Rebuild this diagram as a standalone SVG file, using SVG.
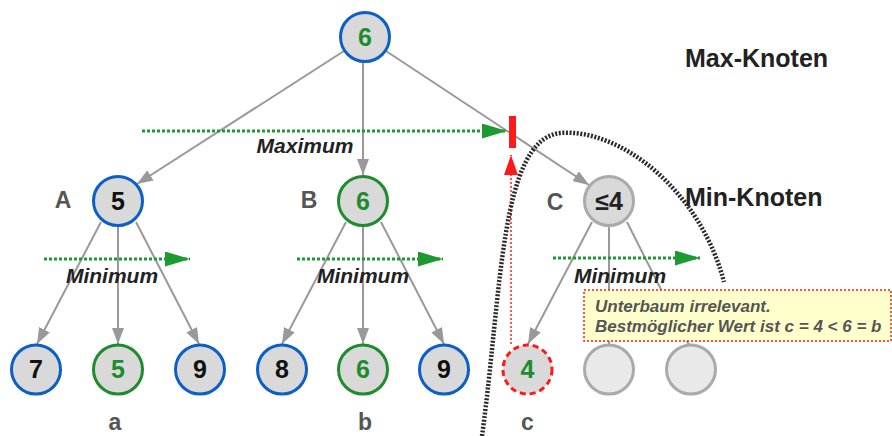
<svg xmlns="http://www.w3.org/2000/svg" width="892" height="436" viewBox="0 0 892 436">
<style>
.nd{stroke-width:3}
.blue{fill:#d9d9d9;stroke:#0b5fc7}
.green{fill:#d9d9d9;stroke:#1e8c2e}
.grey{fill:#d9d9d9;stroke:#aaaaaa}
.empty{fill:#e9e9e9;stroke:#aaaaaa}
.red{fill:#d9d9d9;stroke:#ff1a1a;stroke-dasharray:6 4}
.num{font-family:"Liberation Sans",Arial,sans-serif;font-weight:bold;font-size:25px;text-anchor:middle}
.k{fill:#111}
.g{fill:#1e8c2e}
.lbl{font-family:"Liberation Sans",Arial,sans-serif;font-weight:bold;font-size:23px;fill:#555;text-anchor:middle}
.ttl{font-family:"Liberation Sans",Arial,sans-serif;font-weight:bold;font-size:25px;fill:#222}
.it{font-family:"Liberation Sans",Arial,sans-serif;font-weight:bold;font-style:italic;font-size:21px;fill:#222;text-anchor:middle}
.edge{stroke:#999;stroke-width:2;fill:none}
.ga{stroke:#1a9a30;stroke-width:3;stroke-dasharray:3 2;fill:none}
.note{font-family:"Liberation Sans",Arial,sans-serif;font-weight:bold;font-style:italic;font-size:17px;fill:#555}
</style>
<defs>
<marker id="ah" viewBox="0 0 16 12" refX="16" refY="6" markerWidth="16" markerHeight="12" markerUnits="userSpaceOnUse" orient="auto">
<path d="M0,0 L16,6 L0,12 z" fill="#999"/>
</marker>
<marker id="gh" viewBox="0 0 25 15" refX="25" refY="7.5" markerWidth="25" markerHeight="15" markerUnits="userSpaceOnUse" orient="auto">
<path d="M0,0 L25,7.5 L0,15 z" fill="#1a9a30"/>
</marker>
<marker id="rh" viewBox="0 0 20 14" refX="20" refY="7" markerWidth="20" markerHeight="14" markerUnits="userSpaceOnUse" orient="auto">
<path d="M0,0 L20,7 L0,14 z" fill="#ff1a1a"/>
</marker>
</defs>
<rect width="892" height="436" fill="#ffffff"/>

<g id="connectors">
<line class="edge" x1="344" y1="51" x2="137" y2="184" marker-end="url(#ah)"/>
<line class="edge" x1="363" y1="63" x2="363" y2="175" marker-end="url(#ah)"/>
<line class="edge" x1="386" y1="51" x2="589" y2="185" marker-end="url(#ah)"/>
<line class="edge" x1="101" y1="222" x2="37" y2="344" marker-end="url(#ah)"/>
<line class="edge" x1="118" y1="227" x2="118" y2="344" marker-end="url(#ah)"/>
<line class="edge" x1="136" y1="222" x2="199" y2="344" marker-end="url(#ah)"/>
<line class="edge" x1="346" y1="222" x2="282" y2="344" marker-end="url(#ah)"/>
<line class="edge" x1="363" y1="227" x2="363" y2="344" marker-end="url(#ah)"/>
<line class="edge" x1="381" y1="222" x2="444" y2="344" marker-end="url(#ah)"/>
<line class="edge" x1="592" y1="222" x2="528" y2="344" marker-end="url(#ah)"/>
<line class="edge" x1="609" y1="227" x2="609" y2="345"/>
<line class="edge" x1="627" y1="222" x2="689" y2="345"/>
</g>

<g id="root"><circle class="nd blue" cx="365" cy="37" r="24.5"/><text class="num g" x="365" y="46">6</text></g>
<g id="nodeA"><circle class="nd blue" cx="118" cy="201" r="24.5"/><text class="num k" x="118" y="210">5</text></g>
<g id="nodeB"><circle class="nd green" cx="363" cy="201" r="24.5"/><text class="num g" x="363" y="210">6</text></g>
<g id="nodeC"><circle class="nd grey" cx="609" cy="201" r="24.5"/><text class="num k" x="609" y="210" style="fill:#222">≤4</text></g>
<g id="leaf7"><circle class="nd blue" cx="36" cy="369.5" r="24.5"/><text class="num k" x="36" y="378">7</text></g>
<g id="leaf5"><circle class="nd green" cx="118" cy="369.5" r="24.5"/><text class="num g" x="118" y="378">5</text></g>
<g id="leaf9a"><circle class="nd blue" cx="200" cy="369.5" r="24.5"/><text class="num k" x="200" y="378">9</text></g>
<g id="leaf8"><circle class="nd blue" cx="282" cy="369.5" r="24.5"/><text class="num k" x="282" y="378">8</text></g>
<g id="leaf6"><circle class="nd green" cx="363" cy="369.5" r="24.5"/><text class="num g" x="363" y="378">6</text></g>
<g id="leaf9b"><circle class="nd blue" cx="444" cy="369.5" r="24.5"/><text class="num k" x="444" y="378">9</text></g>
<g id="leaf4"><circle class="nd red" cx="527.5" cy="369.5" r="24.5"/><text class="num g" x="527.5" y="378">4</text></g>
<g id="leafX1"><circle class="nd empty" cx="609" cy="369.5" r="24.5"/></g>
<g id="leafX2"><circle class="nd empty" cx="691" cy="369.5" r="24.5"/></g>

<g id="annotations">
<line class="ga" x1="142" y1="131" x2="507" y2="131" marker-end="url(#gh)"/>
<line class="ga" x1="44" y1="259" x2="190" y2="259" marker-end="url(#gh)"/>
<line class="ga" x1="297" y1="259" x2="443" y2="259" marker-end="url(#gh)"/>
<line class="ga" x1="553" y1="258" x2="700" y2="258" marker-end="url(#gh)"/>
<rect x="509" y="116" width="7" height="32" fill="#ff1a1a"/>
<line x1="511" y1="344" x2="511" y2="155" stroke="#ff1a1a" stroke-width="1.5" stroke-dasharray="2 2" marker-end="url(#rh)"/>
<path d="M482 436 C502 290, 500 140, 560 133 C620 128, 700 190, 724 282" fill="none" stroke="#2a2a2a" stroke-width="4.5" stroke-dasharray="2 1.6"/>
<text class="it" x="305" y="153">Maximum</text>
<text class="it" x="112" y="283">Minimum</text>
<text class="it" x="363" y="283">Minimum</text>
<text class="it" x="620" y="283">Minimum</text>
<text class="lbl" x="63" y="208">A</text>
<text class="lbl" x="309" y="208">B</text>
<text class="lbl" x="555" y="210">C</text>
<text class="lbl" x="115" y="430">a</text>
<text class="lbl" x="365" y="430">b</text>
<text class="lbl" x="527.5" y="430">c</text>
<text class="ttl" x="685" y="67">Max-Knoten</text>
<text class="ttl" x="685" y="206">Min-Knoten</text>
</g>

<g id="note">
<rect x="584" y="290" width="307" height="51" fill="#ffffcc" stroke="#ff1a1a" stroke-width="1.5" stroke-dasharray="2 2"/>
<text class="note" x="595" y="312">Unterbaum irrelevant.</text>
<text class="note" x="595" y="332">Bestmöglicher Wert ist c = 4 &lt; 6 = b</text>
</g>
</svg>
